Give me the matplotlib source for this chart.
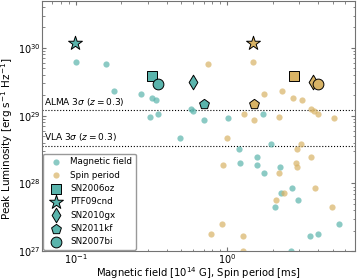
import numpy as np
import matplotlib
matplotlib.use("Agg")
import matplotlib.pyplot as plt

# --- Data ---
# luminosity [erg s^-1 Hz^-1], magnetic field [1e14 G], spin period [ms]
lum = [6.2e29, 5.8e29, 2.33e29, 2.11e29, 1.84e29, 1.69e29, 1.27e29, 1.17e29,
       1.07e29, 1.05e29, 9.5e28, 9.25e28, 8.55e28, 4.61e28, 3.86e28, 3.23e28,
       2.48e28, 2.03e28, 1.86e28, 1.73e28, 1.41e28, 8.5e27, 7.17e27, 5.65e27,
       4.46e27, 2.53e27, 1.80e27, 1.68e27, 1.02e27]
bfield = [0.10, 0.159, 0.1785, 0.269, 0.320, 0.341, 0.576, 0.596,
          0.350, 1.74, 0.309, 1.02, 0.705, 0.489, 1.96, 1.205,
          1.58, 1.21, 1.58, 2.24, 1.76, 2.67, 2.27, 2.93,
          2.06, 5.51, 3.97, 3.53, 2.65]
spin = [1.48, 0.745, 2.32, 1.76, 2.74, 3.14, 3.58, 3.75,
        4.0, 1.29, 2.19, 5.09, 1.50, 0.995, 3.07, 2.88,
        3.57, 2.87, 0.936, 2.90, 2.19, 3.79, 2.39, 2.11,
        4.91, 0.926, 0.787, 1.27, 1.27]

# highlighted SLSNe
sn_names = ["SN2006oz", "PTF09cnd", "SN2010gx", "SN2011kf", "SN2007bi"]
sn_markers = ["s", "*", "d", "p", "o"]
sn_lum = [3.86e29, 1.19e30, 3.14e29, 1.49e29, 2.9e29]
sn_bfield = [0.318, 0.099, 0.593, 0.70, 0.352]
sn_spin = [2.76, 1.48, 3.71, 1.50, 4.0]

# detection limits
alma_lim = 1.21e29
vla_lim = 3.61e28

TEAL = "#5ab4ac"
TAN = "#d8b365"

plt.rcParams.update({
    "xtick.direction": "in",
    "ytick.direction": "in",
    "xtick.top": True,
    "ytick.right": True,
})

fig = plt.figure(figsize=(3.57, 2.79), dpi=100)
ax = fig.add_axes([42 / 357, 27.7 / 279, 313 / 357, 250.8 / 279])

ax.scatter(bfield, lum, s=20, color=TEAL, alpha=0.7, lw=0, label="Magnetic field", zorder=2)
ax.scatter(spin, lum, s=20, color=TAN, alpha=0.7, lw=0, label="Spin period", zorder=2)

sizes = {"s": 55, "*": 110, "d": 55, "p": 55, "o": 60}
for name, m, L, B, P in zip(sn_names, sn_markers, sn_lum, sn_bfield, sn_spin):
    ax.scatter([B], [L], marker=m, s=sizes[m], color=TEAL, edgecolor="k",
               lw=0.7, label=name, zorder=3)
    ax.scatter([P], [L], marker=m, s=sizes[m], color=TAN, edgecolor="k",
               lw=0.7, zorder=3)

ax.axhline(alma_lim, color="k", ls=":", lw=0.8, zorder=1)
ax.axhline(vla_lim, color="k", ls=":", lw=0.8, zorder=1)
ax.text(0.062, alma_lim * 1.08, r"ALMA 3$\sigma$ ($z = 0.3$)", fontsize=6.5, va="bottom")
ax.text(0.062, vla_lim * 1.08, r"VLA 3$\sigma$ ($z = 0.3$)", fontsize=6.5, va="bottom")

ax.set_xscale("log")
ax.set_yscale("log")
ax.set_xlim(0.06, 7)
ax.set_ylim(1e27, 5e30)
ax.set_xlabel(r"Magnetic field [10$^{14}$ G], Spin period [ms]", fontsize=7.2)
ax.set_ylabel(r"Peak Luminosity [erg s$^{-1}$ Hz$^{-1}$]", fontsize=7.5)
ax.xaxis.set_label_coords(0.5, -0.055)
ax.yaxis.set_label_coords(-0.087, 0.45)
for sp in ax.spines.values():
    sp.set_color("0.45")
ax.tick_params(which="both", colors="0.45", labelcolor="k", labelsize=7, pad=1)
ax.tick_params(which="major", length=3)
ax.tick_params(which="minor", length=1.8)

ax.legend(loc="lower left", fontsize=6.3, borderaxespad=0.15, handletextpad=0.7,
          labelspacing=0.5, borderpad=0.4, framealpha=1.0, edgecolor="0.6")

fig.savefig("out.png", dpi=100)
